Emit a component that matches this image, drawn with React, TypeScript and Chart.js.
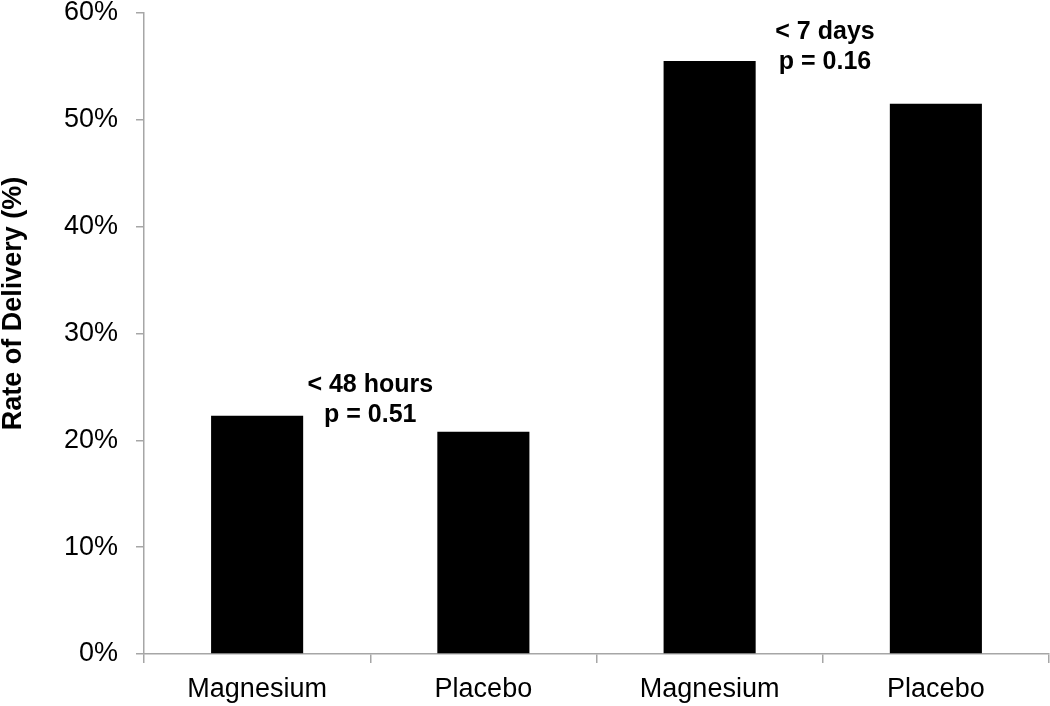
import React, { useEffect, useRef } from "react";
import { Chart, registerables } from "chart.js";

Chart.register(...registerables);

const categories = ["Magnesium", "Placebo", "Magnesium", "Placebo"];
const deliveryRates = [22.3, 20.8, 55.5, 51.5];
const yTickValues = [0, 10, 20, 30, 40, 50, 60];
const yAxisTitle = "Rate of Delivery (%)";
const annotationTexts = [
  ["< 48 hours", "p = 0.51"],
  ["< 7 days", "p = 0.16"],
];
const annotationCategoryPos = [0.5, 2.51];
const annotationValue = [25.2, 58.2];

const FONT = "'Liberation Sans', Arial, Helvetica, sans-serif";

export default function App() {
  const ref = useRef<HTMLCanvasElement | null>(null);

  useEffect(() => {
    if (!ref.current) return;

    const annotationPlugin = {
      id: "annotations",
      afterDatasetsDraw(chart: any) {
        const ctx = chart.ctx;
        const xs = chart.scales.x;
        const ys = chart.scales.y;
        ctx.save();
        ctx.fillStyle = "#000";
        ctx.font = `bold 25px ${FONT}`;
        ctx.textAlign = "center";
        ctx.textBaseline = "middle";
        annotationTexts.forEach((lines, i) => {
          const x = xs.getPixelForValue(annotationCategoryPos[i]);
          const y0 = ys.getPixelForValue(annotationValue[i]);
          lines.forEach((t, j) => ctx.fillText(t, x, y0 + j * 30));
        });
        // y-axis title
        const ca = chart.chartArea;
        ctx.translate(14, (ca.top + ca.bottom) / 2 - 30);
        ctx.rotate(-Math.PI / 2);
        ctx.font = `bold 27px ${FONT}`;
        ctx.fillText(yAxisTitle, 0, 0);
        ctx.restore();
      },
    };

    const chart = new Chart(ref.current, {
      type: "bar",
      data: {
        labels: categories,
        datasets: [
          {
            data: deliveryRates,
            backgroundColor: "#000",
            borderWidth: 0,
            categoryPercentage: 1,
            barPercentage: 0.407,
          },
        ],
      },
      options: {
        responsive: false,
        animation: false,
        layout: { padding: { top: 13, right: 1, left: 0, bottom: 0 } },
        plugins: {
          legend: { display: false },
          tooltip: { enabled: false },
        },
        scales: {
          x: {
            offset: true,
            grid: {
              offset: true,
              drawOnChartArea: false,
              drawTicks: true,
              tickLength: 9,
              color: "#a6a6a6",
              lineWidth: 1.5,
            },
            border: { color: "#a6a6a6", width: 1.5 },
            ticks: {
              color: "#000",
              font: { family: FONT, size: 27 },
              padding: 10,
              maxRotation: 0,
            },
            afterFit: (s: any) => {
              s.height = 52;
              s.paddingLeft = 0;
              s.paddingRight = 0;
            },
          },
          y: {
            min: 0,
            max: 60,
            afterBuildTicks: (s: any) => {
              s.ticks = yTickValues.map((v) => ({ value: v }));
            },
            grid: {
              drawOnChartArea: false,
              drawTicks: true,
              tickLength: 8,
              color: "#a6a6a6",
              lineWidth: 1.5,
            },
            border: { color: "#a6a6a6", width: 1.5 },
            ticks: {
              color: "#000",
              font: { family: FONT, size: 27 },
              padding: 18,
              callback: (v: any) => `${v}%`,
            },
            afterFit: (s: any) => {
              s.width = 144;
              s.paddingTop = 0;
              s.paddingBottom = 0;
            },
          },
        },
      },
      plugins: [annotationPlugin],
    });

    return () => chart.destroy();
  }, []);

  return (
    <div style={{ position: "absolute", left: 0, top: 0, width: 1050, height: 706, background: "#fff" }}>
      <canvas ref={ref} width={1050} height={706} style={{ display: "block" }} />
    </div>
  );
}
